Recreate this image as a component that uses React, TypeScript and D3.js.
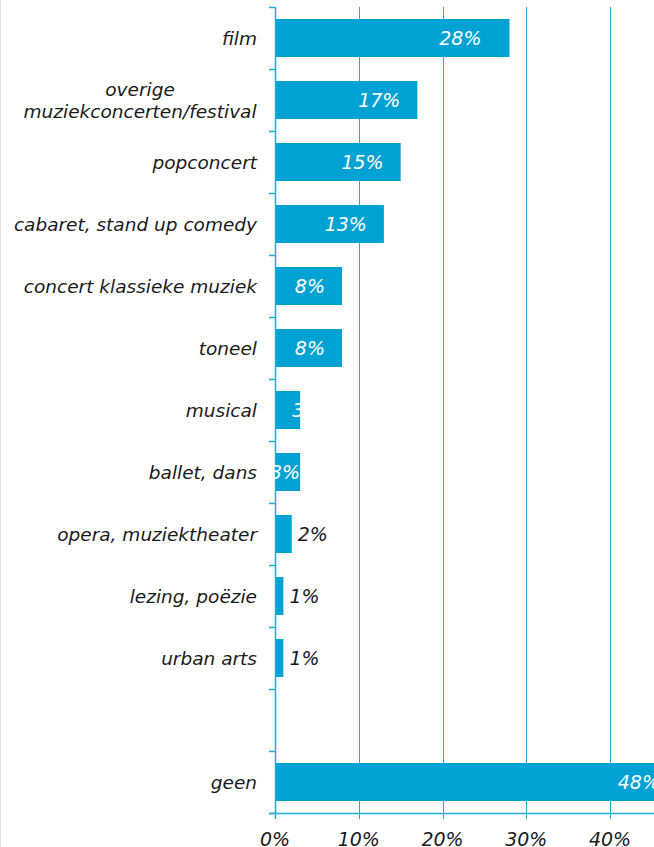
import React, { useEffect, useRef } from "react";
import * as d3 from "d3";

const categories: string[][] = [
  ["film"],
  ["overige", "muziekconcerten/festival"],
  ["popconcert"],
  ["cabaret, stand up comedy"],
  ["concert klassieke muziek"],
  ["toneel"],
  ["musical"],
  ["ballet, dans"],
  ["opera, muziektheater"],
  ["lezing, poëzie"],
  ["urban arts"],
  [""],
  ["geen"],
];
const values: (number | null)[] = [28, 17, 15, 13, 8, 8, 3, 3, 2, 1, 1, null, 48];
// label placement style: deep/in = inside end, edge = flush to bar end, over = overflowing end, out = outside end
const labelModes: string[] = ["deep", "in", "in", "in", "in", "in", "over", "edge", "out", "out", "out", "", "in"];
const ticks: number[] = [0, 10, 20, 30, 40, 50];

const W = 654;
const H = 847;
const BLUE = "#00a2d3";
const GRID = "#22aad8";
const FONT = "'DejaVu Sans', Verdana, sans-serif";

export default function App() {
  const ref = useRef<SVGSVGElement | null>(null);

  useEffect(() => {
    const svg = d3.select(ref.current);
    svg.selectAll("*").remove();

    const left = 275;
    const top = 7;
    const bottom = 813;
    const x = d3.scaleLinear().domain([0, 50]).range([left, left + 418.75]);
    const idx = categories.map((_, i) => String(i));
    const y = d3.scaleBand().domain(idx).range([top, bottom]).paddingInner(0.387).paddingOuter(0.1935);
    const step = y.step();

    svg.append("rect").attr("x", 0).attr("y", 0).attr("width", W).attr("height", H).attr("fill", "#fff");
    svg.append("line").attr("x1", 0.5).attr("x2", 0.5).attr("y1", 0).attr("y2", H).attr("stroke", "#e2e2e2").attr("stroke-width", 1);

    // gridlines
    svg.append("g").selectAll("line").data(ticks.filter(t => t > 0)).join("line")
      .attr("x1", d => Math.round(x(d)) + 0.5).attr("x2", d => Math.round(x(d)) + 0.5)
      .attr("y1", top).attr("y2", bottom + 6)
      .attr("stroke", GRID).attr("stroke-width", 1);

    // bars
    svg.append("g").selectAll("rect").data(values.map((v, i) => ({ v, i })).filter(d => d.v !== null)).join("rect")
      .attr("x", x(0)).attr("y", d => y(String(d.i))!)
      .attr("width", d => x(d.v as number) - x(0)).attr("height", y.bandwidth())
      .attr("fill", BLUE);

    // y axis
    const yAxisG = svg.append("g");
    yAxisG.append("line").attr("x1", left + 0.5).attr("x2", left + 0.5).attr("y1", top).attr("y2", bottom + 6)
      .attr("stroke", GRID).attr("stroke-width", 1.5);
    yAxisG.selectAll("line.t").data(d3.range(categories.length + 1)).join("line").attr("class", "t")
      .attr("x1", left - 6).attr("x2", left)
      .attr("y1", d => top + d * step + 0.5).attr("y2", d => top + d * step + 0.5)
      .attr("stroke", GRID).attr("stroke-width", 1.5);

    // x axis
    svg.append("line").attr("x1", left - 6).attr("x2", W).attr("y1", bottom + 0.5).attr("y2", bottom + 0.5)
      .attr("stroke", GRID).attr("stroke-width", 1.5);
    svg.append("g").selectAll("text").data(ticks).join("text")
      .attr("x", d => x(d)).attr("y", 846)
      .attr("text-anchor", "middle").attr("font-family", FONT).attr("font-style", "italic")
      .attr("font-size", 19).attr("fill", "#1a1a1a").text(d => `${d}%`);

    // category labels
    const catG = svg.append("g");
    categories.forEach((lines, i) => {
      const cy = y(String(i))! + y.bandwidth() / 2;
      const lh = 22;
      const n = lines.length;
      if (n === 1) {
        catG.append("text").attr("x", 257).attr("y", cy).attr("dy", "0.37em")
          .attr("text-anchor", "end").attr("font-family", FONT).attr("font-style", "italic")
          .attr("font-size", 18.5).attr("fill", "#1a1a1a").text(lines[0]);
      } else {
        const t = catG.append("text").attr("font-family", FONT).attr("font-style", "italic")
          .attr("font-size", 18.5).attr("fill", "#1a1a1a").attr("text-anchor", "middle");
        lines.forEach((l, k) => {
          t.append("tspan").attr("y", cy + (k - (n - 1) / 2) * lh).attr("dy", "0.37em").text(l);
        });
        const node = t.node() as SVGTextElement;
        const w = node.getBBox().width;
        t.selectAll("tspan").attr("x", 257 - w / 2);
      }
    });

    // value labels
    const valG = svg.append("g");
    values.forEach((v, i) => {
      if (v === null) return;
      const mode = labelModes[i];
      const cy = y(String(i))! + y.bandwidth() / 2;
      const end = x(v);
      let xp = end - 17;
      let anchor = "end";
      let fill = "#ffffff";
      if (mode === "deep") { xp = end - 28; }
      else if (mode === "edge") { xp = end; }
      else if (mode === "over") { xp = end - 8; anchor = "start"; }
      else if (mode === "out") { xp = end + 6; anchor = "start"; fill = "#1a1a1a"; }
      valG.append("text").attr("x", xp).attr("y", cy).attr("dy", "0.38em")
        .attr("text-anchor", anchor).attr("font-family", FONT).attr("font-style", "italic")
        .attr("font-size", 19).attr("fill", fill).text(`${v}%`);
    });
  }, []);

  return (
    <svg ref={ref} width={W} height={H} style={{ position: "absolute", left: 0, top: 0, display: "block" }} />
  );
}
